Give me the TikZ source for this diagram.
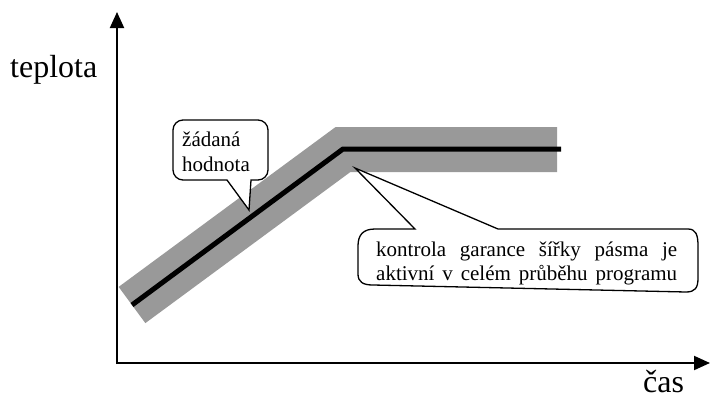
\documentclass[tikz,border=0pt]{standalone}
\usepackage{fontspec}
\setmainfont{Liberation Serif}
\usetikzlibrary{arrows.meta}
\definecolor{bandgray}{RGB}{153,153,153}
\begin{document}
\begin{tikzpicture}[x=1pt,y=-1pt,
  axis/.style={line width=2pt,-{Triangle[width=14pt,length=16pt]}},
  band/.style={line width=45pt,bandgray,line join=miter},
  setpoint/.style={line width=5pt,black,line join=miter},
  bubble/.style={draw=black,line width=1.3pt,fill=white,line join=miter},
  small/.style={font=\fontsize{21}{25}\selectfont,inner sep=0pt,anchor=base west},
  big/.style={font=\fontsize{32}{38}\selectfont,inner sep=0pt,anchor=base west}]
\useasboundingbox (0,0) rectangle (710,399);

% axes
\coordinate (origin) at (117,363);
\coordinate (ytop) at (117,12);
\coordinate (xend) at (710,363);
\draw[axis] ([yshift=-1pt]origin) -- (ytop);
\draw[axis] (origin) -- (xend);
\node[big] (ylabel) at (10,77) {teplota};
\node[big] (xlabel) at (643,392) {čas};

% tolerance band and set-point curve
\coordinate (s0) at (132,305);
\coordinate (s1) at (343,149);
\coordinate (s2) at (561,149);
\draw[band] (132,305) -- (343,149.5) -- (557,149.5);
\draw[setpoint] (s0) -- (s1) -- (s2);

% callout: set point
\coordinate (tipA) at (249,210);
\draw[bubble] (227,180) -- (tipA) -- (251,180) -- (258,180)
  .. controls (263.5,180) and (268,175.5) .. (268,170) -- (268,130)
  .. controls (268,124.5) and (263.5,120) .. (258,120) -- (183,120)
  .. controls (177.5,120) and (173,124.5) .. (173,130) -- (173,170)
  .. controls (173,175.5) and (177.5,180) .. (183,180) -- cycle;
\node[small] (sp1) at (182,146) {žádaná};
\node[small] (sp2) at (182,171) {hodnota};

% callout: band check
\coordinate (tipB) at (355,168);
\draw[bubble] (415,229) -- (tipB) -- (498,229) -- (688,229)
  .. controls (696,229) and (698,235) .. (698,246) -- (698,278)
  .. controls (698,288) and (695,292) .. (686,292) -- (373,285)
  .. controls (363,285) and (358,282) .. (358,274) -- (358,246)
  .. controls (358,235) and (363,229) .. (375,229) -- cycle;
\node[small] (bw1) at (376,256) {\makebox[301pt][s]{kontrola garance šířky pásma je}};
\node[small] (bw2) at (376,280) {\makebox[301pt][s]{aktivní v celém průběhu programu}};
\end{tikzpicture}
\end{document}
